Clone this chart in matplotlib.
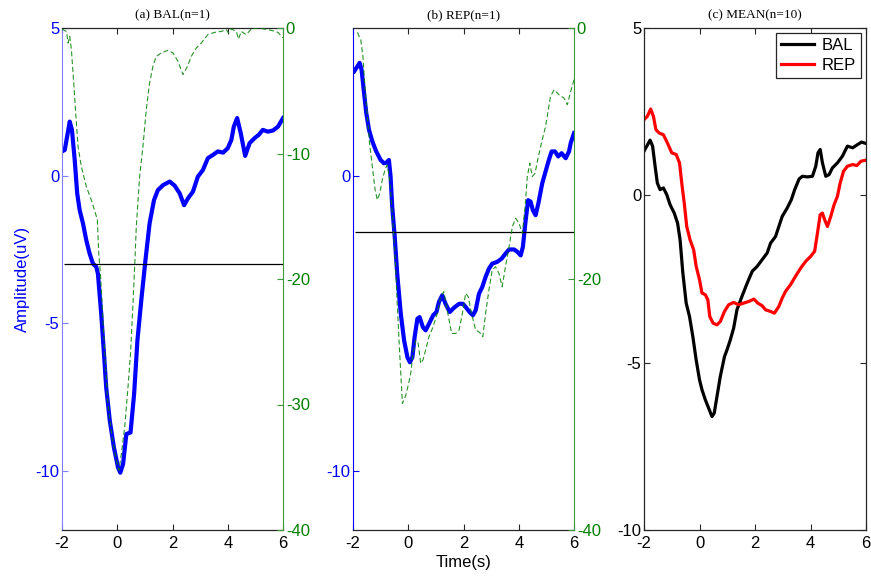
import matplotlib
matplotlib.use("Agg")
import matplotlib.pyplot as plt
import numpy as np

plt.rcParams["font.family"] = ["Liberation Sans", "DejaVu Sans"]
plt.rcParams["axes.unicode_minus"] = False

# ---- (a) BAL, single subject -------------------------------------------
bal_t = [-2.0, -1.90, -1.72, -1.64, -1.54, -1.45, -1.36, -1.24, -1.12, -1.0,
         -0.88, -0.76, -0.70, -0.58, -0.48, -0.40, -0.27, -0.12, 0.03, 0.11,
         0.21, 0.33, 0.48, 0.61, 0.73, 0.87, 1.02, 1.17, 1.33, 1.47,
         1.66, 1.90, 2.08, 2.26, 2.42, 2.56, 2.74, 2.92, 3.10, 3.28,
         3.46, 3.64, 3.83, 4.0, 4.13, 4.22, 4.34, 4.47, 4.63, 4.79,
         4.97, 5.12, 5.27, 5.45, 5.64, 5.82, 6.0]
bal_amp = [0.82, 0.87, 1.83, 1.55, 0.53, -0.60, -1.17, -1.62, -2.19, -2.64,
           -2.98, -3.09, -3.32, -4.68, -6.04, -7.17, -8.30, -9.21, -9.89, -10.06,
           -9.77, -8.75, -8.70, -7.40, -5.58, -4.22, -2.87, -1.62, -0.83, -0.49,
           -0.32, -0.20, -0.34, -0.60, -1.0, -0.77, -0.54, -0.03, 0.19, 0.59,
           0.70, 0.82, 0.78, 0.93, 1.21, 1.66, 1.95, 1.44, 0.67, 1.10,
           1.27, 1.38, 1.55, 1.49, 1.53, 1.66, 1.95]

bal_stat_t = [-2.0, -1.84, -1.78, -1.72, -1.66, -1.60, -1.52, -1.42, -1.30, -1.12,
              -0.94, -0.79, -0.72, -0.67, -0.61, -0.55, -0.46, -0.34, -0.19, -0.03,
              0.06, 0.15, 0.27, 0.39, 0.48, 0.57, 0.63, 0.69, 0.81, 0.93,
              1.05, 1.17, 1.29, 1.41, 1.59, 1.84, 2.02, 2.20, 2.38, 2.54,
              2.68, 2.86, 3.04, 3.28, 3.52, 3.77, 3.95, 4.03, 4.13, 4.31,
              4.39, 4.49, 4.67, 4.85, 5.09, 5.33, 5.58, 5.82, 6.0]
bal_stat = [-0.1, -0.27, -1.2, -0.66, -1.73, -3.59, -6.25, -9.44, -11.04, -12.63,
            -13.70, -14.76, -15.29, -17.95, -19.55, -21.94, -25.66, -29.92, -32.58, -34.44,
            -35.24, -33.91, -31.78, -28.59, -25.93, -21.94, -19.02, -15.82, -11.84, -9.44,
            -6.52, -4.39, -3.06, -2.26, -1.99, -1.78, -1.99, -2.66, -3.72, -3.06,
            -2.26, -1.60, -1.20, -0.53, -0.35, -0.27, -0.13, -0.40, -0.08, -0.27,
            -0.88, -0.27, -0.53, -0.08, 0.0, -0.08, -0.19, -0.35, -0.80]
bal_threshold = -3.0

# ---- (b) REP, single subject -------------------------------------------
rep_t = [-1.96, -1.84, -1.76, -1.69, -1.60, -1.52, -1.42, -1.30, -1.16, -1.0,
         -0.88, -0.79, -0.70, -0.64, -0.58, -0.49, -0.40, -0.27, -0.15, -0.03,
         0.06, 0.15, 0.23, 0.33, 0.41, 0.53, 0.63, 0.75, 0.90, 1.02,
         1.11, 1.23, 1.35, 1.50, 1.66, 1.84, 1.98, 2.08, 2.22, 2.34,
         2.44, 2.56, 2.68, 2.80, 2.92, 3.04, 3.22, 3.38, 3.52, 3.65,
         3.83, 3.95, 4.07, 4.15, 4.25, 4.34, 4.43, 4.51, 4.61, 4.71,
         4.85, 4.97, 5.09, 5.19, 5.31, 5.43, 5.55, 5.70, 5.82, 5.88, 6.0]
rep_amp = [3.53, 3.70, 3.82, 3.59, 2.80, 2.12, 1.55, 1.16, 0.82, 0.53,
           0.42, 0.44, 0.53, -0.03, -1.05, -2.07, -3.32, -4.68, -5.58, -6.15,
           -6.32, -6.15, -5.47, -4.85, -4.79, -5.13, -5.24, -5.02, -4.73, -4.62,
           -4.28, -4.05, -4.34, -4.62, -4.47, -4.34, -4.34, -4.45, -4.62, -4.73,
           -4.56, -4.0, -3.77, -3.43, -3.15, -2.98, -2.92, -2.81, -2.64, -2.50,
           -2.50, -2.58, -2.70, -2.41, -1.51, -0.83, -0.88, -1.17, -1.34, -0.94,
           -0.26, 0.14, 0.53, 0.82, 0.82, 0.65, 0.76, 0.59, 0.82, 1.10, 1.44]

rep_stat_t = [-1.84, -1.72, -1.64, -1.57, -1.48, -1.40, -1.30, -1.20, -1.12, -1.03,
              -0.94, -0.84, -0.76, -0.67, -0.58, -0.48, -0.40, -0.31, -0.21, -0.09,
              0.0, 0.09, 0.17, 0.27, 0.36, 0.45, 0.53, 0.63, 0.75, 0.90,
              1.05, 1.17, 1.29, 1.41, 1.57, 1.72, 1.84, 1.96, 2.08, 2.17,
              2.29, 2.44, 2.54, 2.62, 2.70, 2.80, 2.92, 3.04, 3.16, 3.28,
              3.40, 3.52, 3.65, 3.77, 3.89, 4.01, 4.13, 4.23, 4.31, 4.40,
              4.49, 4.59, 4.71, 4.85, 4.97, 5.07, 5.15, 5.28, 5.46, 5.64,
              5.76, 5.88, 6.0]
rep_stat = [-0.35, -0.93, -2.26, -4.65, -7.05, -9.18, -11.04, -12.9, -13.70, -13.16,
            -12.10, -11.30, -10.9, -12.10, -14.76, -17.95, -21.94, -25.93, -29.92, -29.26,
            -28.46, -27.53, -25.93, -24.87, -25.13, -26.73, -26.46, -25.66, -24.60, -23.80,
            -22.74, -21.41, -21.01, -22.47, -24.34, -24.34, -24.07, -22.74, -21.14, -21.41,
            -22.74, -24.07, -24.20, -24.34, -24.60, -22.74, -20.88, -19.28, -19.02, -19.55,
            -20.61, -19.02, -17.42, -15.82, -15.16, -15.56, -16.36, -14.23, -11.84, -10.77,
            -11.84, -11.57, -10.24, -8.91, -7.85, -6.52, -5.45, -4.92, -5.32, -5.59,
            -6.12, -5.05, -4.12]
rep_threshold = -1.9

# ---- (c) group means (n=10) ---------------------------------------------
mean_bal_t = [-2.0, -1.90, -1.78, -1.69, -1.60, -1.52, -1.42, -1.30, -1.18, -1.06,
              -0.91, -0.79, -0.70, -0.60, -0.48, -0.36, -0.24, -0.12, 0.0, 0.09,
              0.21, 0.33, 0.45, 0.53, 0.63, 0.75, 0.90, 0.99, 1.11, 1.23,
              1.35, 1.53, 1.72, 1.90, 2.08, 2.26, 2.44, 2.56, 2.74, 2.86,
              2.98, 3.16, 3.31, 3.43, 3.59, 3.71, 3.89, 4.07, 4.19, 4.27,
              4.35, 4.43, 4.55, 4.67, 4.79, 4.97, 5.15, 5.33, 5.52, 5.70,
              5.84, 6.0]
mean_bal = [1.32, 1.47, 1.65, 1.47, 0.87, 0.37, 0.17, 0.22, 0.02, -0.28,
            -0.53, -0.83, -1.33, -2.32, -3.22, -3.62, -4.22, -4.92, -5.51, -5.81,
            -6.11, -6.36, -6.61, -6.51, -6.01, -5.41, -4.82, -4.62, -4.32, -3.97,
            -3.42, -3.02, -2.62, -2.27, -2.12, -1.92, -1.72, -1.43, -1.23, -0.93,
            -0.63, -0.38, -0.13, 0.17, 0.49, 0.57, 0.55, 0.57, 0.87, 1.27,
            1.37, 0.97, 0.57, 0.62, 0.82, 0.97, 1.17, 1.47, 1.42, 1.52,
            1.59, 1.55]

mean_rep_t = [-2.0, -1.88, -1.76, -1.66, -1.57, -1.45, -1.30, -1.16, -1.0, -0.84,
              -0.72, -0.64, -0.55, -0.46, -0.34, -0.21, -0.12, 0.0, 0.09, 0.21,
              0.30, 0.37, 0.49, 0.63, 0.75, 0.90, 1.05, 1.23, 1.41, 1.59,
              1.78, 1.96, 2.10, 2.26, 2.38, 2.56, 2.70, 2.86, 2.98, 3.10,
              3.28, 3.46, 3.65, 3.83, 4.01, 4.15, 4.25, 4.35, 4.43, 4.51,
              4.61, 4.73, 4.85, 4.97, 5.07, 5.19, 5.33, 5.52, 5.67, 5.82, 6.0]
mean_rep = [2.26, 2.36, 2.58, 2.36, 1.96, 1.86, 1.81, 1.57, 1.27, 1.22,
            0.97, 0.37, -0.23, -0.93, -1.33, -1.63, -2.12, -2.52, -2.92, -2.97,
            -3.12, -3.62, -3.82, -3.87, -3.77, -3.47, -3.27, -3.20, -3.27, -3.22,
            -3.17, -3.10, -3.22, -3.30, -3.42, -3.47, -3.52, -3.32, -3.07, -2.87,
            -2.67, -2.42, -2.17, -1.97, -1.82, -1.67, -1.13, -0.58, -0.53, -0.73,
            -0.93, -0.63, -0.28, -0.03, 0.37, 0.72, 0.87, 0.92, 0.89, 1.02, 1.05]

x_ticks = [-2, 0, 2, 4, 6]
titles = ["(a) BAL(n=1)", "(b) REP(n=1)", "(c) MEAN(n=10)"]

BLUE = "#0000ff"
GREEN = "#008000"
SPINE_DARK = "#262626"
W, H = 871, 576

fig = plt.figure(figsize=(W / 100, H / 100), dpi=100)


def frame(left_px, right_px):
    return fig.add_axes([left_px / W, (H - 530) / H,
                         (right_px - left_px) / W, (530 - 28) / H])


def style_x(ax):
    ax.set_xlim(-2, 6)
    ax.set_xticks(x_ticks)
    ax.tick_params(axis="x", direction="in", length=4.5, width=0.8,
                   top=True, colors=SPINE_DARK, labelcolor="black",
                   labelsize=12, pad=4)
    for s in ("top", "bottom"):
        ax.spines[s].set_color(SPINE_DARK)
        ax.spines[s].set_linewidth(0.9)


def erp_panel(left_px, right_px, t, amp, st_t, st, thr, lticks, rticks,
              title, lspine_color):
    ax = frame(left_px, right_px)
    ax.plot(t, amp, color=BLUE, lw=3.0, solid_joinstyle="round", zorder=2)
    ax.hlines(thr, -1.93, 6, color="black", lw=0.9, zorder=3)
    ax.set_ylim(-12, 5)
    ax.set_yticks(lticks)
    ax.tick_params(axis="y", direction="in", length=4.5, width=0.8,
                   right=True, colors=lspine_color, labelcolor=BLUE,
                   labelsize=12, pad=2)
    ax.spines["left"].set_color(lspine_color)
    ax.spines["right"].set_visible(False)
    style_x(ax)
    ax.set_title(title, family=["Liberation Serif"], fontsize=9.5, pad=7)

    ax2 = ax.twinx()
    ax2.plot(st_t, st, color=GREEN, lw=0.8, ls=(0, (4.5, 2.5)), alpha=0.85)
    ax2.set_ylim(-40, 0)
    ax2.set_yticks(rticks)
    ax2.tick_params(axis="y", direction="in", length=4.5, width=0.8,
                    colors="#3a9a3a", labelcolor=GREEN, labelsize=12, pad=2)
    for s in ("left", "top", "bottom"):
        ax2.spines[s].set_visible(False)
    ax2.spines["right"].set_color("#3a9a3a")
    ax2.set_xlim(-2, 6)
    return ax, ax2


ax_a, _ = erp_panel(62, 283, bal_t, bal_amp, bal_stat_t, bal_stat,
                    bal_threshold, [5, 0, -5, -10], [0, -10, -20, -30, -40],
                    titles[0], "#7f7fff")
ax_a.set_ylabel("Amplitude(uV)", color=BLUE, fontsize=12, labelpad=4)

ax_b, _ = erp_panel(353, 574, rep_t, rep_amp, rep_stat_t, rep_stat,
                    rep_threshold, [0, -10], [0, -20, -40],
                    titles[1], BLUE)
ax_b.set_xlabel("Time(s)", fontsize=12, labelpad=3)

ax_c = frame(644, 866)
ax_c.plot(mean_bal_t, mean_bal, color="black", lw=2.3, label="BAL")
ax_c.plot(mean_rep_t, mean_rep, color="red", lw=2.3, label="REP")
ax_c.set_ylim(-10, 5)
ax_c.set_yticks([5, 0, -5, -10])
ax_c.tick_params(axis="y", direction="in", length=4.5, width=0.8,
                 right=True, colors=SPINE_DARK, labelcolor="black",
                 labelsize=12, pad=2)
for s in ("left", "right"):
    ax_c.spines[s].set_color(SPINE_DARK)
    ax_c.spines[s].set_linewidth(0.9)
style_x(ax_c)
ax_c.set_title(titles[2], family=["Liberation Serif"], fontsize=9.5, pad=7)
leg = ax_c.legend(loc="upper right", fontsize=12, fancybox=False,
                  edgecolor=SPINE_DARK, framealpha=1, borderpad=0.3,
                  labelspacing=0.3, handlelength=2.0, handletextpad=0.45,
                  borderaxespad=0.3)
leg.get_frame().set_linewidth(0.9)

fig.savefig("out.png", dpi=100)
